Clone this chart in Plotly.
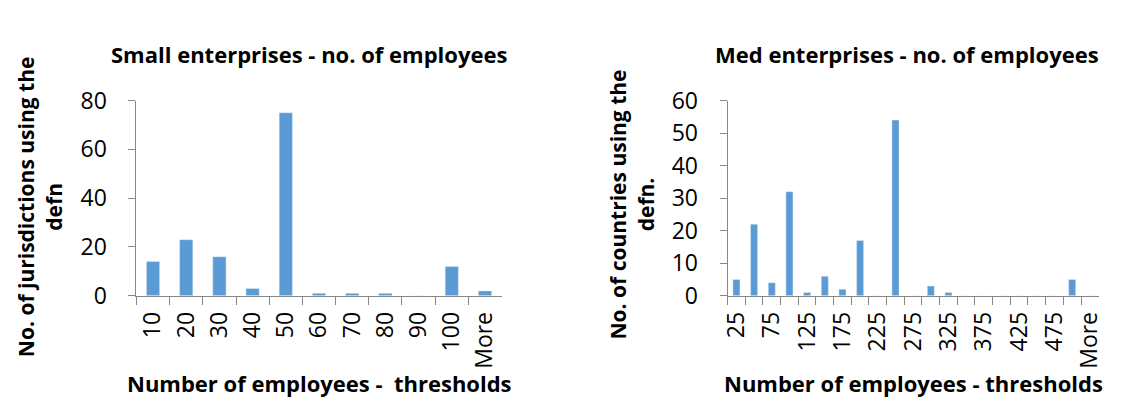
import plotly.graph_objects as go

# ── Data ──
small_cats = ["10", "20", "30", "40", "50", "60", "70", "80", "90", "100", "More"]
small_vals = [14, 23, 16, 3, 75, 1, 1, 1, 0, 12, 2]

med_cats = ["25", "50", "75", "100", "125", "150", "175", "200", "225", "250",
            "275", "300", "325", "350", "375", "400", "425", "450", "475", "500", "More"]
med_vals = [5, 22, 4, 32, 1, 6, 2, 17, 0, 54, 0, 3, 1, 0, 0, 0, 0, 0, 0, 5, 0]
# Excel skipped every second label on the medium chart
med_ticktext = [c if i % 2 == 0 else "" for i, c in enumerate(med_cats)]

BAR_COLOR = "#5B9BD5"
AXIS_COLOR = "#868686"
TXT = "#000000"
FONT = "Open Sans"

fig = go.Figure()
fig.add_trace(go.Bar(x=small_cats, y=small_vals, marker_color=BAR_COLOR,
                     xaxis="x", yaxis="y", showlegend=False))
fig.add_trace(go.Bar(x=med_cats, y=med_vals, marker_color=BAR_COLOR,
                     xaxis="x2", yaxis="y2", showlegend=False))

xcommon = dict(type="category", showline=True, linecolor=AXIS_COLOR, linewidth=1,
               ticks="outside", tickson="boundaries", ticklen=8, tickcolor=AXIS_COLOR,
               tickangle=-90, showgrid=False, zeroline=False, ticklabelstandoff=6,
               tickfont=dict(family=FONT, size=23, color=TXT))
ycommon = dict(showline=True, linecolor=AXIS_COLOR, linewidth=1, ticks="outside",
               ticklen=7, tickcolor=AXIS_COLOR, showgrid=False, zeroline=False,
               ticklabelstandoff=17,
               tickfont=dict(family=FONT, size=23, color=TXT))

fig.update_layout(
    width=1148, height=405,
    margin=dict(l=0, r=0, t=0, b=0),
    paper_bgcolor="white", plot_bgcolor="white",
    bargap=0.6,
    xaxis=dict(domain=[121 / 1148, 491 / 1148], anchor="y", **xcommon),
    yaxis=dict(domain=[(405 - 294) / 405, (405 - 82) / 405], anchor="x",
               range=[0, 80], dtick=20, **ycommon),
    xaxis2=dict(domain=[720 / 1148, 1096 / 1148], anchor="y2",
                tickmode="array", tickvals=med_cats, ticktext=med_ticktext, **xcommon),
    yaxis2=dict(domain=[(405 - 294) / 405, (405 - 82) / 405], anchor="x2",
                range=[0, 60], dtick=10, **ycommon),
)

bold = dict(family=FONT, size=22, color=TXT)
ybold = dict(family=FONT, size=21, color=TXT)


def px(xp, yp):
    return xp / 1148, (405 - yp) / 405


annos = [
    ("<b>Small enterprises - no. of employees</b>", 296, 32, 0, bold),
    ("<b>Med enterprises - no. of employees</b>", 902, 32, 0, bold),
    ("<b>Number of employees -  thresholds</b>", 306, 389, 0, bold),
    ("<b>Number of employees - thresholds</b>", 908, 389, 0, bold),
    ("<b>No. of jurisdictions using the<br>defn</b>", 23, 197, -90, ybold),
    ("<b>No. of countries using the<br>defn.</b>", 623, 195, -90, ybold),
]
for text, xp, yp, ang, fnt in annos:
    ax, ay = px(xp, yp)
    fig.add_annotation(text=text, x=ax, y=ay, xref="paper", yref="paper",
                       xanchor="center", yanchor="middle", showarrow=False,
                       textangle=ang, font=fnt)

fig.write_html("out.html")
